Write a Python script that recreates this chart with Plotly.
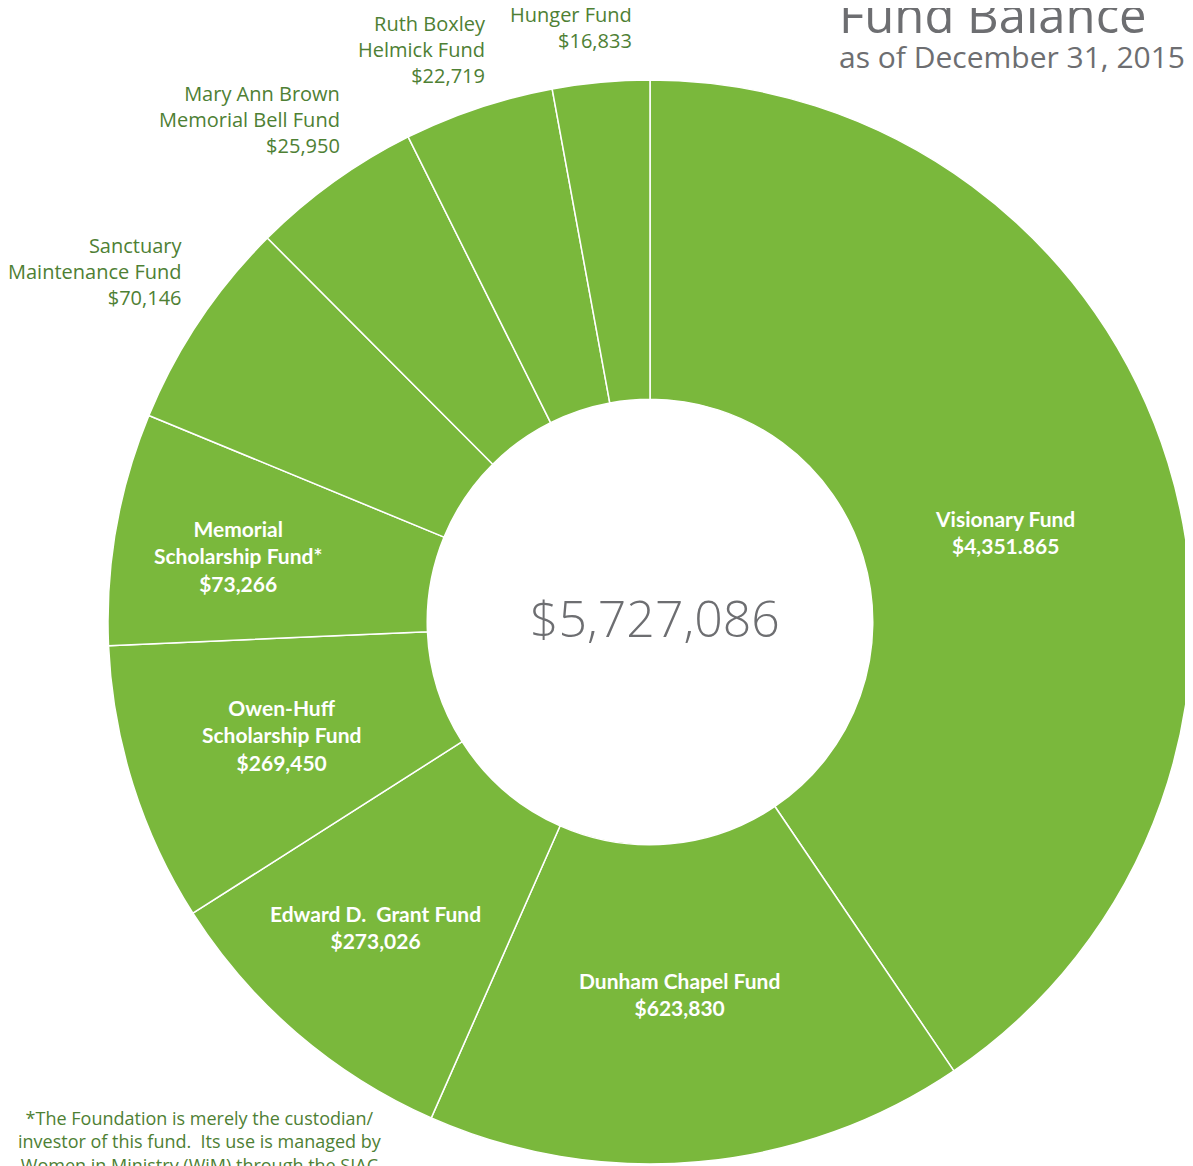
import plotly.graph_objects as go

# ---- data ----
fund_names = [
    "Visionary Fund", "Dunham Chapel Fund", "Edward D.  Grant Fund",
    "Owen-Huff<br>Scholarship Fund", "Memorial<br>Scholarship Fund*",
    "Sanctuary<br>Maintenance Fund", "Mary Ann Brown<br>Memorial Bell Fund",
    "Ruth Boxley<br>Helmick Fund", "Hunger Fund",
]
amount_labels = [
    "$4,351.865", "$623,830", "$273,026", "$269,450", "$73,266",
    "$70,146", "$25,950", "$22,719", "$16,833",
]
# angular share of each slice as drawn in the picture (degrees)
slice_share_deg = [145.9, 57.9, 33.7, 30.0, 24.9, 22.7, 18.4, 16.1, 10.4]
total_label = "$5,727,086"
title_text = "Fund Balance"
subtitle_text = "as of December 31, 2015"
footnote_text = ("*The Foundation is merely the custodian/<br>"
                 "investor of this fund.  Its use is managed by<br>"
                 "Women in Ministry (WiM) through the SIAC")

# ---- layout / style ----
W, H = 1193, 1166
OFF = 8  # page body margin offset
GREEN = "#7AB83C"
DARK_GREEN = "#4E8034"
GRAY = "#6D6E71"
cx, cy, r = 650 - OFF, 622 - OFF, 542


def px(x, y):
    return (x - OFF) / W, 1 - (y - OFF) / H


fig = go.Figure(go.Pie(
    values=slice_share_deg,
    labels=fund_names,
    sort=False,
    direction="clockwise",
    rotation=0,
    hole=0.411,
    marker=dict(colors=[GREEN] * len(fund_names), line=dict(color="white", width=1.5)),
    textinfo="none",
    hoverinfo="label",
    showlegend=False,
    domain=dict(x=[(cx - r) / W, (cx + r) / W], y=[(H - cy - r) / H, (H - cy + r) / H]),
))

# label placement (px in the final picture): (x, y_center, anchor, inside?)
label_pos = [
    (1005, 532, "center", True),
    (679, 994, "center", True),
    (375, 927, "center", True),
    (281, 735, "center", True),
    (238, 556, "center", True),
    (184, 272, "right", False),
    (342, 119, "right", False),
    (488, 49, "right", False),
    (634, 27, "right", False),
]

annotations = []
for name, amt, (x, y, anchor, inside) in zip(fund_names, amount_labels, label_pos):
    ax, ay = px(x, y)
    if inside:
        font = dict(family="Lato", size=21, color="white", weight="bold")
    else:
        font = dict(family="Open Sans", size=20, color=DARK_GREEN)
    annotations.append(dict(
        x=ax, y=ay, xref="paper", yref="paper", text=f"{name}<br>{amt}", showarrow=False,
        xanchor=anchor, yanchor="middle", align=anchor, font=font,
    ))

# centre total
ax, ay = px(655, 618)
annotations.append(dict(x=ax, y=ay, xref="paper", yref="paper", text=total_label,
                        showarrow=False, xanchor="center", yanchor="middle",
                        font=dict(family="Open Sans", size=50, color=GRAY, weight=300)))
# title
ax, ay = px(837, 14)
annotations.append(dict(x=ax, y=ay, xref="paper", yref="paper", text=title_text,
                        showarrow=False, xanchor="left", yanchor="middle",
                        font=dict(family="Open Sans", size=49, color=GRAY)))
ax, ay = px(837, 56)
annotations.append(dict(x=ax, y=ay, xref="paper", yref="paper", text=subtitle_text,
                        showarrow=False, xanchor="left", yanchor="middle",
                        font=dict(family="Open Sans", size=30, color=GRAY)))
# footnote
ax, ay = px(200, 1141)
annotations.append(dict(x=ax, y=ay, xref="paper", yref="paper", text=footnote_text,
                        showarrow=False, xanchor="center", yanchor="middle", align="center",
                        font=dict(family="Open Sans", size=18, color=DARK_GREEN)))

fig.update_layout(
    width=W, height=H,
    margin=dict(l=0, r=0, t=0, b=0),
    paper_bgcolor="white", plot_bgcolor="white",
    annotations=annotations,
)

fig.write_html("out.html")
